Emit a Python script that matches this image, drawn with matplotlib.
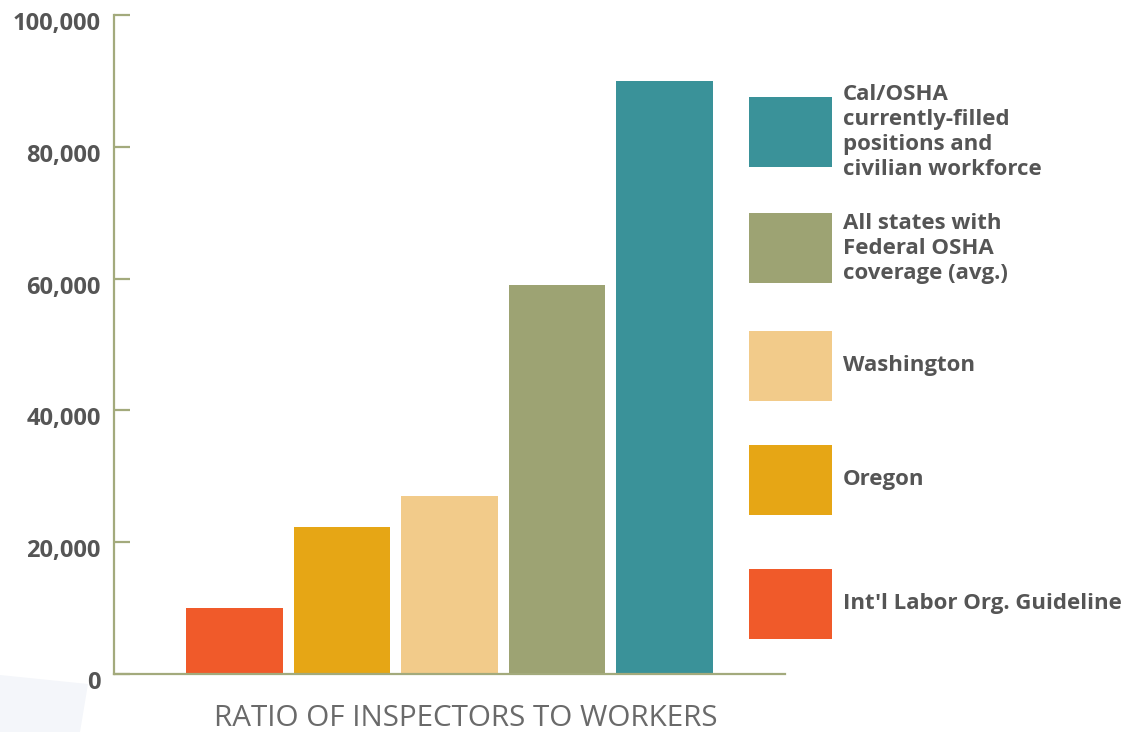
import matplotlib
matplotlib.use("Agg")
import matplotlib.pyplot as plt
from matplotlib.patches import Rectangle, Polygon
from matplotlib.ticker import FuncFormatter
from matplotlib.transforms import ScaledTranslation

categories = ["Int'l Labor Org. Guideline", "Oregon", "Washington",
              "All states with\nFederal OSHA\ncoverage (avg.)",
              "Cal/OSHA\ncurrently-filled\npositions and\ncivilian workforce"]
values = [10000, 22300, 27000, 59000, 90000]
colors = ["#f05a2a", "#e6a615", "#f2cb8a", "#9da373", "#3a9299"]
yticks = [0, 20000, 40000, 60000, 80000, 100000]
xlabel = "RATIO OF INSPECTORS TO WORKERS"

FONT = "Open Sans"
W, H = 1131, 732
fig = plt.figure(figsize=(W / 100, H / 100), dpi=100)
fig.patch.set_facecolor("white")

# faint decoration bottom-left
fig.patches.append(Polygon([(0, 0), (0, (732 - 675) / H), (88 / W, (732 - 684) / H), (80 / W, 0)],
                           closed=True, transform=fig.transFigure, facecolor="#f4f6fa",
                           edgecolor="none", zorder=0))

ax = fig.add_axes([114 / W, (732 - 674) / H, (785 - 114) / W, (674 - 15) / H])
x = list(range(len(values)))
ax.bar(x, values, width=0.9, color=colors, zorder=2)
ax.set_xlim(-1.12, 5.12)
ax.set_ylim(0, 100000)

spine_c = "#a3aa7c"
for s in ["top", "right"]:
    ax.spines[s].set_visible(False)
for s in ["left", "bottom"]:
    ax.spines[s].set_color(spine_c)
    ax.spines[s].set_linewidth(1.6)
ax.spines["bottom"].set_zorder(3)

ax.set_xticks([])
ax.set_yticks(yticks)
ax.yaxis.set_major_formatter(FuncFormatter(lambda v, p: f"{int(v):,}"))
ax.tick_params(axis="y", direction="in", length=11.5, width=1.6, color=spine_c,
               pad=9.5, labelsize=17, labelcolor="#555555")
off = ScaledTranslation(0, -6 / 100, fig.dpi_scale_trans)
for lab in ax.get_yticklabels():
    lab.set_fontfamily(FONT)
    lab.set_fontweight("bold")
    lab.set_transform(lab.get_transform() + off)

ax.set_xlabel(xlabel, fontsize=21.3, color="#6a6a6a", family=FONT, fontweight="normal")
ax.xaxis.set_label_coords((466 - 114) / (785 - 114), -(718 - 674) / (674 - 15))
ax.xaxis.label.set_va("center")

# legend (top to bottom in reverse category order)
box_tops = [97, 213, 331, 445, 569]
for i, top in enumerate(box_tops):
    idx = len(values) - 1 - i
    fig.patches.append(Rectangle((749 / W, (732 - top - 70) / H), 83 / W, 70 / H,
                                 transform=fig.transFigure, facecolor=colors[idx],
                                 edgecolor="none"))
    fig.text(843 / W, (732 - top - 35) / H, categories[idx], ha="left", va="center",
             fontsize=16, family=FONT, fontweight="bold", color="#555555",
             linespacing=1.25)

fig.savefig("out.png", dpi=100, facecolor="white")
